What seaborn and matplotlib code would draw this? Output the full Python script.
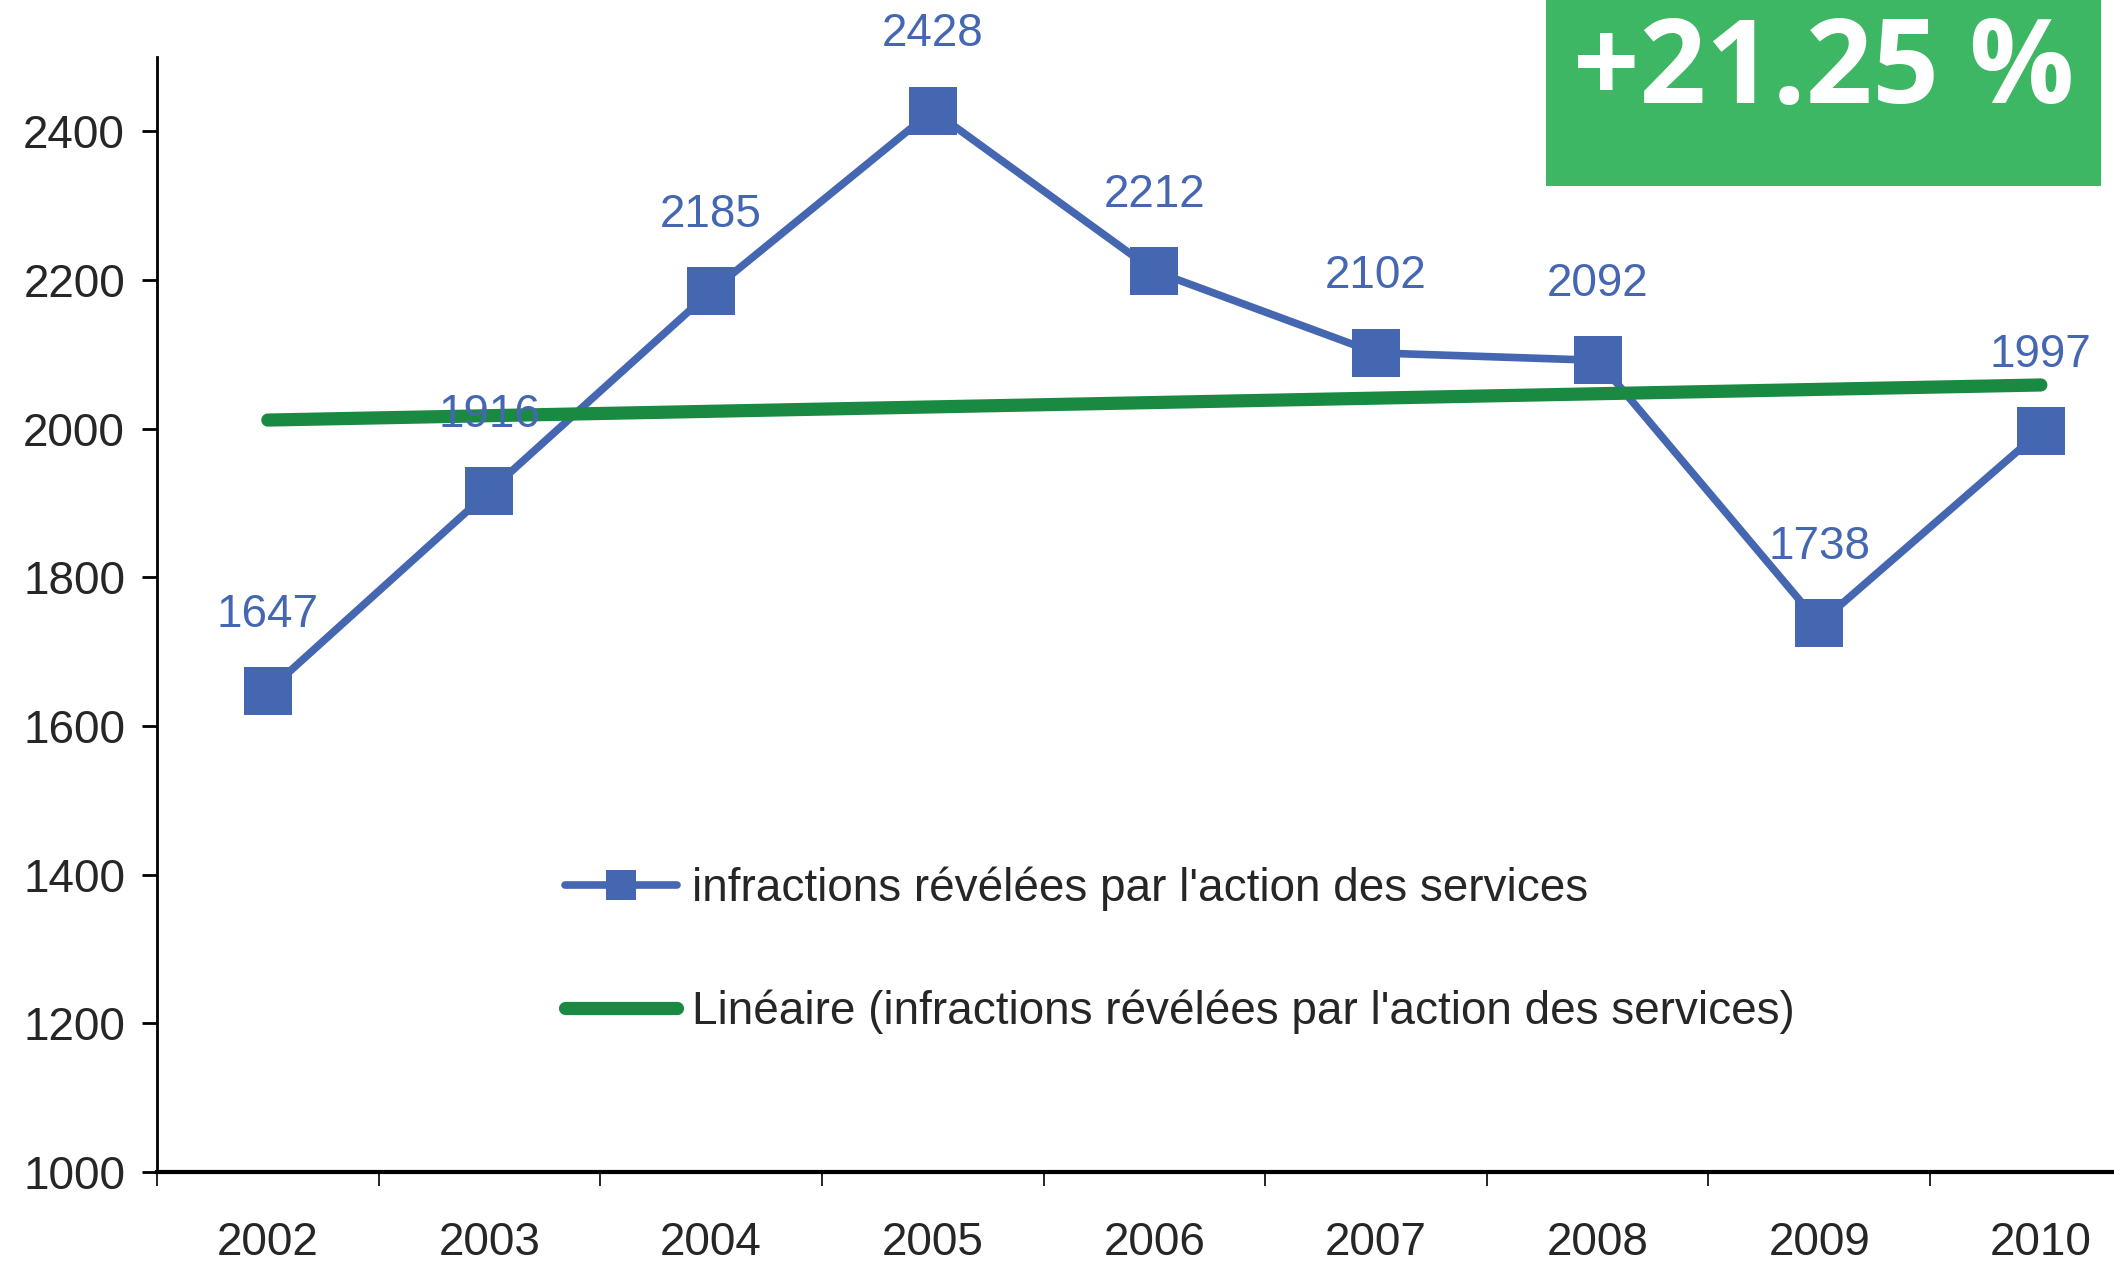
import numpy as np
import pandas as pd
import matplotlib
matplotlib.use("Agg")
import matplotlib.pyplot as plt
from matplotlib.patches import Rectangle
from matplotlib.lines import Line2D
import seaborn as sns

# ---- data ----
years = ["2002", "2003", "2004", "2005", "2006", "2007", "2008", "2009", "2010"]
infractions = [1647, 1916, 2185, 2428, 2212, 2102, 2092, 1738, 1997]
y_ticks = [1000, 1200, 1400, 1600, 1800, 2000, 2200, 2400]
evolution_label = "+21.25 %"
serie_label = "infractions révélées par l'action des services"
trend_label = "Linéaire (infractions révélées par l'action des services)"

BLUE = "#4567B1"
GREEN_LINE = "#1A8A42"
GREEN_BOX = "#3DB763"
FS = 33

sns.set_style("white")
plt.rcParams["font.family"] = ["Liberation Sans", "DejaVu Sans"]

df = pd.DataFrame({"idx": np.arange(len(years)), "annee": years, "valeur": infractions})

# droite de tendance (regression lineaire)
coef = np.polyfit(df["idx"], df["valeur"], 1)
df["tendance"] = np.polyval(coef, df["idx"])

fig = plt.figure(figsize=(21.14, 12.62), dpi=100)
ax = fig.add_axes([157 / 2114, 0.0713, 1 - 157 / 2114, 0.8835])

sns.lineplot(data=df, x="idx", y="valeur", ax=ax, color=BLUE, linewidth=5.5,
             marker="s", markersize=34, markeredgewidth=0, zorder=3)
sns.lineplot(data=df, x="idx", y="tendance", ax=ax, color=GREEN_LINE,
             linewidth=9.5, zorder=4)

# etiquettes des valeurs
for i, v in zip(df["idx"], df["valeur"]):
    ax.annotate(str(v), (i, v), xytext=(0, 55), textcoords="offset points",
                ha="center", va="center", color=BLUE, fontsize=FS, zorder=5)

ax.set_xlim(-0.5, 8.33)
ax.set_ylim(1000, 2500)
ax.set_yticks(y_ticks)
ax.set_yticklabels([str(t) for t in y_ticks])
ax.set_xticks(np.arange(len(years)) - 0.5)
ax.set_xticklabels([])
ax.set_xticks(np.arange(len(years)), minor=True)
ax.set_xticklabels(years, minor=True)
ax.tick_params(axis="x", which="major", direction="out", length=10, width=1.2,
               color="black", bottom=True)
ax.tick_params(axis="x", which="minor", length=0, pad=35, labelsize=FS)
ax.tick_params(axis="y", direction="out", length=11, width=2, color="black",
               pad=12, labelsize=FS, left=True)
ax.set_xlabel("")
ax.set_ylabel("")

for s in ["top", "right"]:
    ax.spines[s].set_visible(False)
ax.spines["left"].set_linewidth(2)
ax.spines["bottom"].set_linewidth(3)
ax.spines["left"].set_color("black")
ax.spines["bottom"].set_color("black")

# legende
handles = [
    Line2D([], [], color=BLUE, linewidth=5.5, marker="s", markersize=21, markeredgewidth=0),
    Line2D([], [], color=GREEN_LINE, linewidth=9.5),
]
fig.legend(handles, [serie_label, trend_label], loc="center left",
           bbox_to_anchor=(565 / 2114, 1 - 950 / 1262), frameon=False,
           fontsize=FS, handlelength=2.45, handletextpad=0.33,
           labelspacing=1.71, borderpad=0, borderaxespad=0)

# encart vert
fig.patches.append(Rectangle((1546 / 2114, 1 - 186 / 1262), 555 / 2114, 186 / 1262,
                             transform=fig.transFigure, facecolor=GREEN_BOX,
                             edgecolor="none", zorder=10))
fig.text(1824 / 2114, 1 - 103 / 1262, evolution_label, ha="center", va="baseline",
         color="white", fontsize=84, fontweight="bold",
         family=["Open Sans", "DejaVu Sans"], zorder=11)

fig.savefig("out.png", dpi=100)
